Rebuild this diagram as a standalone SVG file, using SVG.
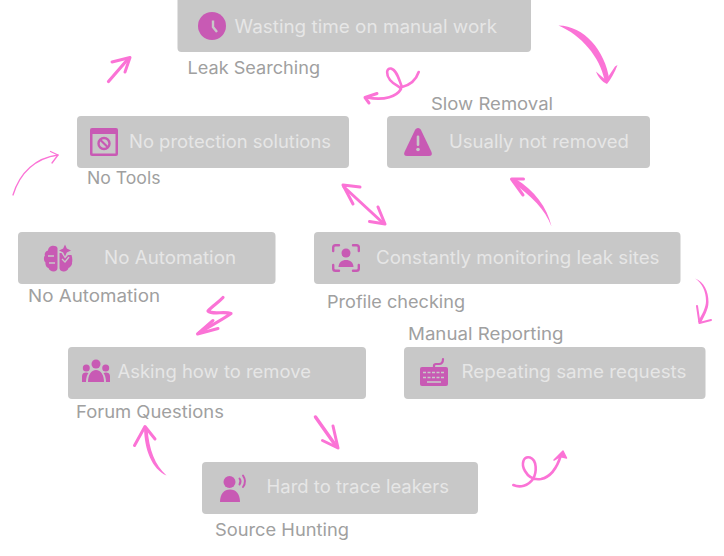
<svg xmlns="http://www.w3.org/2000/svg" width="724" height="556" viewBox="0 0 724 556">
<style>
text{font-family:Inter,"Open Sans","Liberation Sans",sans-serif;font-size:18px;font-weight:400;}
.b{fill:#c8c8c8;}
.t{fill:#e6e6e6;}
.l{fill:#a0a0a0;font-size:17px;}
.i{fill:#c85ab4;}
.k{fill:#c8c8c8;}
.ks{fill:none;stroke:#c8c8c8;}
.a{fill:none;stroke:#fb73d6;stroke-width:3;stroke-linecap:round;stroke-linejoin:round;}
.f{fill:#fb73d6;}
</style>
<rect width="724" height="556" fill="#fff"/>
<g id="connectors">
<path class="f" d="M558.500,25.500C584,26 605,50 609.500,80L604.500,80C600,57 581,35 558.500,25.500Z"/>
<path class="f" d="M596,71.500C600,75 603,78 606,80L615,66.500L617.500,65C615,72 611,79 607,84C602,82 598,77 596,71.500Z"/>
<path class="a" style="stroke-width:2.600" d="M418.700,72C416,80 410,85 402,87C399,80 397,70 391,68.500C386,68 386,75 390,80C394,85 400,86 401,89C397,96 385,101 367,97.500"/>
<path class="a" d="M377,93.500L365,97.500L369,103"/>
<path class="a" style="stroke-width:3.200" d="M108.500,81.500L128,59"/>
<path class="a" d="M112,62L130,57.500L125,72"/>
<path class="a" style="stroke-width:1.300" d="M13,195C20,172 36,158 58,155"/>
<path class="a" style="stroke-width:1.300" d="M50.500,151.500L58,155L52,163"/>
<path class="a" d="M344,187L383,223"/>
<path class="a" d="M360,187L343,185L353,204"/>
<path class="a" d="M378,207L385,224L369.500,221.500"/>
<path class="f" d="M551.500,226.500C545,209 532,197 512,182L515,178.500C535,191 547,207 551.500,226.500Z"/>
<path class="a" d="M523.500,179L511.500,179L523,195"/>
<path class="f" d="M695,278.500C704,282 708.500,291 708.500,302C708.500,310 704,316 701,323L698,322C702,314 706,308 706,301C706,291 702,283 695,278.500Z"/>
<path class="a" style="stroke-width:2" d="M697,306L699.500,323L711,320"/>
<path class="a" style="stroke-width:3.200" d="M223,297.500C218,303 212,306 208,311C212,315 224,311 231,313.500C222,320 208,327 199,333"/>
<path class="a" d="M213,320.500L197.500,334L218,328.500"/>
<path class="a" style="stroke-width:3.500" d="M315.500,417L336,446"/>
<path class="a" d="M333,426L338,448L322.500,440.500"/>
<path class="f" d="M166.500,475.500C152,469 144.500,450 144,428L147.500,428C149,450 155,465 166.500,475.500Z"/>
<path class="a" d="M134.500,445.500L145,426.500L155,439"/>
<path class="a" style="stroke-width:2.600" d="M513.300,485C520,488 528,486 533,479C537,472 537,460 530,457.500C523,456 521,464 525,471C529,478 535,480 541,479C551,477 557,468 561,455"/>
<path class="f" stroke="#fb73d6" stroke-width="1.500" stroke-linejoin="round" d="M554,460L563,451L566.500,458L560,456.500Z"/>
</g>
<g id="node-wasting">
<rect class="b" x="177.500" y="-6" width="353.500" height="58" rx="4"/>
<circle class="i" cx="212" cy="26" r="14"/>
<path class="ks" stroke-width="2.400" d="M213,20.500L213,27L217,32"/>
<text class="t" x="234.500" y="33.300" textLength="262.500" lengthAdjust="spacingAndGlyphs">Wasting time on manual work</text>
<text class="l" x="187.500" y="74.300" textLength="132.500" lengthAdjust="spacingAndGlyphs">Leak Searching</text>
</g>
<g id="node-no-protection">
<rect class="b" x="77" y="116" width="272" height="52" rx="4"/>
<rect class="i" x="90" y="128" width="28" height="28" rx="2"/>
<rect class="k" x="92.500" y="134" width="23" height="19.500"/>
<circle cx="104" cy="143.500" r="5.500" fill="none" stroke="#c85ab4" stroke-width="2.400"/>
<path d="M100.200,139.700L107.800,147.300" stroke="#c85ab4" stroke-width="2.200"/>
<text class="t" x="129" y="148.300" textLength="202" lengthAdjust="spacingAndGlyphs">No protection solutions</text>
<text class="l" x="87" y="184.300" textLength="73.500" lengthAdjust="spacingAndGlyphs">No Tools</text>
</g>
<g id="node-not-removed">
<rect class="b" x="387" y="116" width="263" height="52" rx="4"/>
<path class="i" d="M418,128C419.500,128 420.500,129 421,130L431.500,152C432.500,154.500 431.500,156 429,156L407,156C404.500,156 403.500,154.500 404.500,152L415,130C415.500,129 416.500,128 418,128Z"/>
<rect class="k" x="416.700" y="135.500" width="2.600" height="10.500" rx="1.200"/>
<circle class="k" cx="418" cy="149.500" r="1.800"/>
<text class="t" x="449" y="148.300" textLength="180" lengthAdjust="spacingAndGlyphs">Usually not removed</text>
<text class="l" x="431" y="110.300" textLength="122" lengthAdjust="spacingAndGlyphs">Slow Removal</text>
</g>
<g id="node-no-automation">
<rect class="b" x="18" y="232" width="257.500" height="52" rx="4"/>
<path class="i" d="M57.500,248C57,246 54,245.500 51.500,246C49,246.500 48,249 48,250.500C45.500,251 44,254 45,255.500C43.500,257 43.500,261 45.500,262.500C45,265 46.500,267.500 48.500,268C49,270 51.500,271.500 53.500,271.500C56,271.500 57.500,270 57.500,268Z"/>
<path class="i" d="M59.500,253L59.500,268C59.500,270.500 62,271.500 64,271.500C66,271.500 68,270 68.500,268C70.500,267 72.500,265 72,262.500C72.500,261 72.500,258 71.500,255L68,255L65,258.500L61.500,253Z"/>
<path class="i" d="M65,244.500L66.800,248.500L71,250.500L66.800,252.500L65,256.500L63.200,252.500L59,250.500L63.200,248.500Z"/>
<path class="ks" stroke-width="1.300" d="M48,256H54M49,263H55M62,259L65,262L69,257"/>
<text class="t" x="104" y="264.300" textLength="132" lengthAdjust="spacingAndGlyphs">No Automation</text>
<text class="l" x="28" y="302.300" textLength="132" lengthAdjust="spacingAndGlyphs">No Automation</text>
</g>
<g id="node-monitoring">
<rect class="b" x="314" y="232" width="366.500" height="52" rx="4"/>
<path fill="none" stroke="#c85ab4" stroke-width="2.400" stroke-linecap="round" d="M333.200,251V247.500Q333.200,245.200 335.500,245.200H339M353,245.200H356.500Q358.800,245.200 358.800,247.500V251M358.800,265V268.500Q358.800,270.800 356.500,270.800H353M339,270.800H335.500Q333.200,270.800 333.200,268.500V265"/>
<circle class="i" cx="346" cy="253" r="4.500"/>
<path class="i" d="M338.500,267C338.500,262.500 342,260 346,260C350,260 353.500,262.500 353.500,267Z"/>
<text class="t" x="376" y="264.300" textLength="283.500" lengthAdjust="spacingAndGlyphs">Constantly monitoring leak sites</text>
<text class="l" x="327" y="308.300" textLength="138" lengthAdjust="spacingAndGlyphs">Profile checking</text>
</g>
<g id="node-asking">
<rect class="b" x="68" y="347" width="298" height="52" rx="4"/>
<circle class="i" cx="96" cy="364" r="4.500"/>
<circle class="i" cx="86.300" cy="368" r="3.500"/>
<circle class="i" cx="105.700" cy="368" r="3.500"/>
<path class="i" d="M88,382C88,375 91,370 96,370C101,370 104,375 104,382Z"/>
<path class="i" d="M82,382V376C82,373.500 84,372.500 86,372.500L88.500,373C87,375 86,378 86,382Z"/>
<path class="i" d="M110,382V376C110,373.500 108,372.500 106,372.500L103.500,373C105,375 106,378 106,382Z"/>
<text class="t" x="117.500" y="378.300" textLength="193.500" lengthAdjust="spacingAndGlyphs">Asking how to remove</text>
<text class="l" x="76" y="418.300" textLength="148" lengthAdjust="spacingAndGlyphs">Forum Questions</text>
</g>
<g id="node-repeating">
<rect class="b" x="404" y="347" width="301.500" height="52" rx="4"/>
<path fill="none" stroke="#c85ab4" stroke-width="2.200" stroke-linecap="round" d="M434,367.500V365.500Q434,364 436,364H439Q443,364 443,359"/>
<rect class="i" x="420" y="367" width="28" height="19" rx="2"/>
<path class="ks" stroke-width="1.600" stroke-dasharray="3 1.500" d="M423,372.500H445M423,377.500H445"/>
<path class="ks" stroke-width="1.600" d="M427,382H441"/>
<text class="t" x="461.500" y="378.300" textLength="225" lengthAdjust="spacingAndGlyphs">Repeating same requests</text>
<text class="l" x="408" y="340.300" textLength="155.500" lengthAdjust="spacingAndGlyphs">Manual Reporting</text>
</g>
<g id="node-hard-to-trace">
<rect class="b" x="202" y="462" width="276" height="52" rx="4"/>
<circle class="i" cx="229.500" cy="482" r="6"/>
<path class="i" d="M220,502C220,494 224,489.500 230,489.500C236,489.500 240,494 240,502Z"/>
<path fill="none" stroke="#c85ab4" stroke-width="2" stroke-linecap="round" d="M239.500,478.500Q241.500,481 239.500,484.500M243,475.500Q247,481.500 243,487"/>
<text class="t" x="266.500" y="493.300" textLength="182.500" lengthAdjust="spacingAndGlyphs">Hard to trace leakers</text>
<text class="l" x="215" y="536.300" textLength="134" lengthAdjust="spacingAndGlyphs">Source Hunting</text>
</g>
</svg>
